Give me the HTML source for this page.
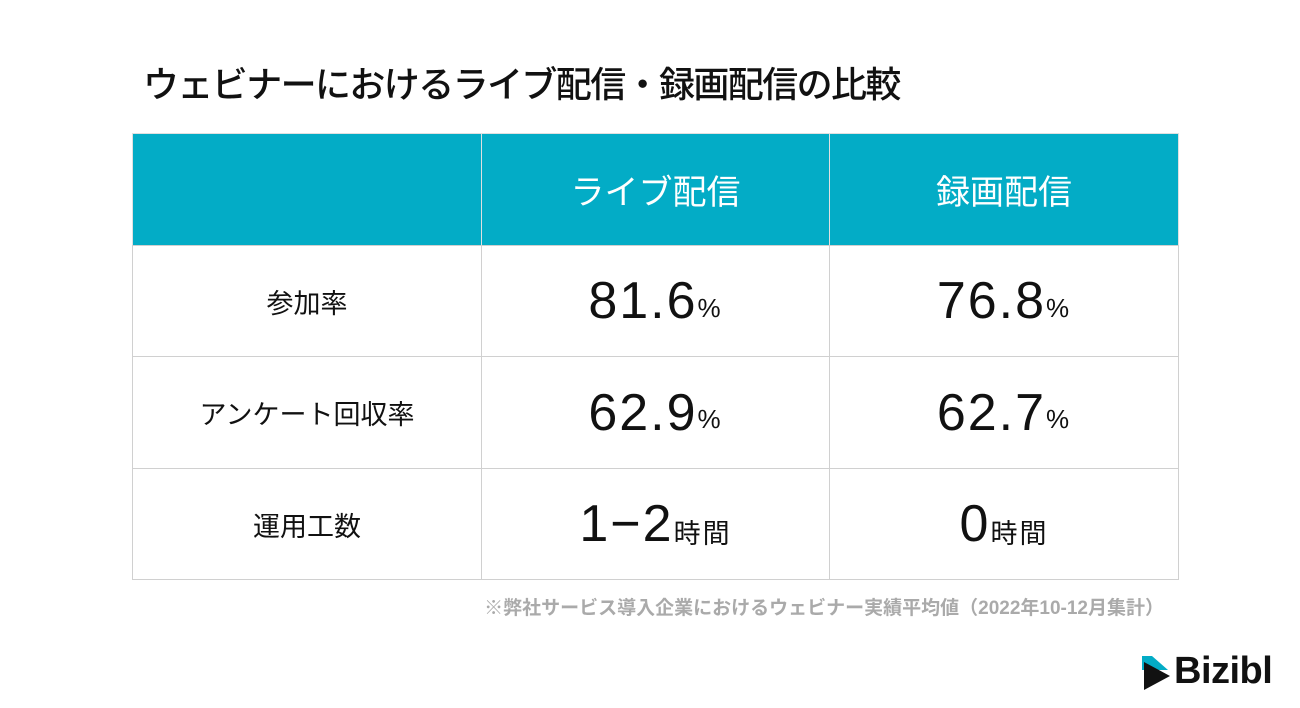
<!DOCTYPE html>
<html><head><meta charset="utf-8"><style>
body{margin:0;width:1300px;height:708px;background:#fff;position:relative;overflow:hidden;font-family:"Liberation Sans","Noto Sans CJK JP",sans-serif;}
.a{position:absolute}
.title{left:143px;top:56px;font-size:36px;color:#111;white-space:nowrap;letter-spacing:-1.6px;font-weight:500}
.cell{position:absolute;display:flex;align-items:center;justify-content:center;box-sizing:border-box;border:1px solid #d0d0d0;white-space:nowrap}
.hd{background:#03acc6;color:#fff;font-size:34px;border-color:#e0e0e0}
.lb{font-size:27px;color:#111}
.num{font-size:52px;color:#111;letter-spacing:2px}
.num small{font-size:26px;margin-top:14px}
.num .u{font-size:27px;margin-top:14px}
.note{right:136px;top:593px;font-size:19px;color:#aaa;white-space:nowrap;font-weight:bold}
</style></head><body>
<div class="a title">ウェビナーにおけるライブ配信・録画配信の比較</div>
<div>
<div class="cell hd" style="left:132px;top:133px;width:350px;height:113px"></div>
<div class="cell hd" style="left:481px;top:133px;width:349px;height:113px">ライブ配信</div>
<div class="cell hd" style="left:829px;top:133px;width:350px;height:113px">録画配信</div>

<div class="cell lb" style="left:132px;top:245px;width:350px;height:112px">参加率</div>
<div class="cell num" style="left:481px;top:245px;width:349px;height:112px">81.6<small>%</small></div>
<div class="cell num" style="left:829px;top:245px;width:350px;height:112px">76.8<small>%</small></div>

<div class="cell lb" style="left:132px;top:356px;width:350px;height:113px">アンケート回収率</div>
<div class="cell num" style="left:481px;top:356px;width:349px;height:113px">62.9<small>%</small></div>
<div class="cell num" style="left:829px;top:356px;width:350px;height:113px">62.7<small>%</small></div>

<div class="cell lb" style="left:132px;top:468px;width:350px;height:112px">運用工数</div>
<div class="cell num" style="left:481px;top:468px;width:349px;height:112px">1−2<span class="u">時間</span></div>
<div class="cell num" style="left:829px;top:468px;width:350px;height:112px">0<span class="u">時間</span></div>
</div>
<div class="a note">※弊社サービス導入企業におけるウェビナー実績平均値（2022年10-12月集計）</div>
<div class="a" style="left:1140px;top:654px">
<svg width="40" height="40" viewBox="0 0 40 40"><polygon points="2,2 12,2 28,16 2,16" fill="#03acc6"/><polygon points="4,8 30,22 4,36" fill="#111"/></svg>
</div>
<div class="a" style="left:1174px;top:650px;font-size:38px;font-weight:bold;color:#111;letter-spacing:-0.5px">Bizibl</div>
</body></html>
